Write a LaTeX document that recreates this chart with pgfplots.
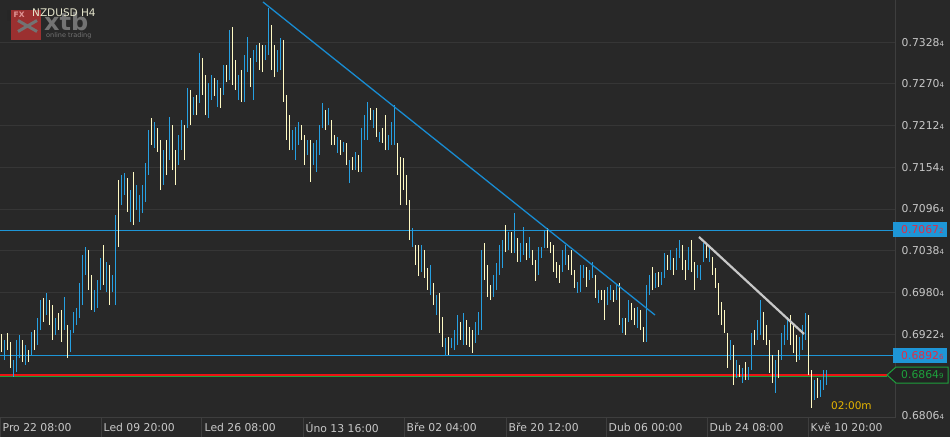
\documentclass[border=0pt]{standalone}
\usepackage{fontspec}
\setmainfont{DejaVu Sans}
\usepackage{pgfplots}
\usepackage{pgfplotstable}
\pgfplotsset{compat=1.18}
\definecolor{bg}{RGB}{40,40,40}
\definecolor{bgbox}{RGB}{34,34,34}
\definecolor{gridc}{RGB}{54,54,54}
\definecolor{axc}{RGB}{62,62,62}
\definecolor{labc}{RGB}{200,200,200}
\definecolor{cup}{RGB}{38,160,226}
\definecolor{cdn}{RGB}{255,250,195}
\definecolor{tline}{RGB}{24,140,210}
\definecolor{hline}{RGB}{30,150,215}
\definecolor{redl}{RGB}{235,20,20}
\definecolor{greenl}{RGB}{30,160,60}
\definecolor{redt}{RGB}{225,45,70}
\definecolor{titc}{RGB}{230,230,205}
\definecolor{logor}{RGB}{155,48,48}
\definecolor{logog}{RGB}{115,115,115}
\definecolor{orangec}{RGB}{230,180,0}
\definecolor{wline}{RGB}{200,200,200}
\newcommand{\pr}[2]{#1{\fontsize{7}{8}\selectfont #2}}

\pgfplotstableread{
i h l c
0 0.69226 0.68976 0
1 0.69143 0.68864 1
2 0.69240 0.69003 0
3 0.69115 0.68753 0
4 0.68864 0.68628 1
5 0.69143 0.68697 1
6 0.69212 0.68892 1
7 0.69143 0.68837 0
8 0.69073 0.68795 1
9 0.69003 0.68837 0
10 0.69254 0.68934 1
11 0.69282 0.69003 0
12 0.69449 0.69073 1
13 0.69699 0.69282 1
14 0.69727 0.69393 0
15 0.69796 0.69490 1
16 0.69699 0.69351 0
17 0.69629 0.69143 0
18 0.69449 0.69212 1
19 0.69518 0.69282 0
20 0.69560 0.69115 0
21 0.69741 0.69282 1
22 0.69351 0.68892 0
23 0.69282 0.68976 1
24 0.69532 0.69240 1
25 0.69588 0.69351 1
26 0.69935 0.69449 1
27 0.70325 0.69629 1
28 0.70436 0.70047 1
29 0.70394 0.69838 0
30 0.70047 0.69560 0
31 0.69838 0.69532 1
32 0.69977 0.69588 1
33 0.70283 0.69838 1
34 0.70464 0.69908 0
35 0.70228 0.69810 1
36 0.70186 0.69629 0
37 0.70047 0.69810 1
38 0.70881 0.69629 1
39 0.71368 0.70436 0
40 0.71438 0.71020 1
41 0.71466 0.71160 1
42 0.71396 0.70923 0
43 0.71229 0.70784 1
44 0.71479 0.70742 0
45 0.71299 0.70951 1
46 0.71160 0.70784 1
47 0.71299 0.70909 1
48 0.71605 0.71062 1
49 0.72064 0.71438 1
50 0.72231 0.71855 0
51 0.72175 0.71813 1
52 0.72092 0.71758 0
53 0.71925 0.71229 0
54 0.71785 0.71299 1
55 0.71925 0.71438 0
56 0.72245 0.71646 1
57 0.72133 0.71507 0
58 0.71785 0.71299 0
59 0.71994 0.71577 1
60 0.72203 0.71785 1
61 0.72133 0.71646 0
62 0.72648 0.72092 1
63 0.72620 0.72133 0
64 0.72523 0.72272 1
65 0.72551 0.72272 0
66 0.73135 0.72439 1
67 0.73065 0.72551 0
68 0.72829 0.72272 0
69 0.72717 0.72231 1
70 0.72829 0.72481 1
71 0.72787 0.72537 0
72 0.72759 0.72384 1
73 0.72648 0.72370 0
74 0.72968 0.72551 1
75 0.72968 0.72731 0
76 0.73455 0.72759 1
77 0.73496 0.72690 0
78 0.73037 0.72620 0
79 0.72829 0.72481 1
80 0.72898 0.72453 0
81 0.73107 0.72453 1
82 0.73357 0.72870 1
83 0.73065 0.72662 0
84 0.73176 0.72481 1
85 0.73246 0.73010 1
86 0.73274 0.72898 0
87 0.73246 0.72870 0
88 0.73246 0.73037 1
89 0.73761 0.73107 1
90 0.73524 0.72898 0
91 0.73246 0.72801 0
92 0.73176 0.72870 1
93 0.73343 0.72898 1
94 0.73316 0.72453 0
95 0.72551 0.71925 0
96 0.72272 0.71785 0
97 0.72064 0.71785 1
98 0.72105 0.71646 1
99 0.72175 0.71855 1
100 0.72133 0.71925 0
101 0.71994 0.71577 0
102 0.71925 0.71716 1
103 0.71925 0.71340 0
104 0.71883 0.71577 1
105 0.71925 0.71479 1
106 0.72133 0.71716 1
107 0.72439 0.72092 1
108 0.72342 0.72064 0
109 0.72370 0.72133 1
110 0.72203 0.71855 0
111 0.71994 0.71855 0
112 0.71966 0.71744 1
113 0.71925 0.71716 0
114 0.71897 0.71758 1
115 0.71883 0.71577 0
116 0.71646 0.71326 1
117 0.71688 0.71507 0
118 0.71758 0.71507 1
119 0.71716 0.71479 0
120 0.72092 0.71479 1
121 0.72272 0.71925 1
122 0.72453 0.71925 1
123 0.72370 0.72203 0
124 0.72342 0.72092 1
125 0.72370 0.71966 0
126 0.72036 0.71897 1
127 0.72092 0.71883 0
128 0.72272 0.71785 0
129 0.71994 0.71785 1
130 0.72175 0.71855 1
131 0.72411 0.71855 1
132 0.71883 0.71438 0
133 0.71688 0.71020 0
134 0.71674 0.71229 0
135 0.71438 0.71020 0
136 0.71090 0.70534 0
137 0.70701 0.70436 1
138 0.70464 0.70186 0
139 0.70464 0.70033 0
140 0.70464 0.70088 1
141 0.70394 0.70005 0
142 0.70144 0.69838 0
143 0.70186 0.69769 1
144 0.69935 0.69629 0
145 0.69769 0.69490 1
146 0.69796 0.69240 0
147 0.69463 0.69045 0
148 0.69170 0.68934 1
149 0.69184 0.68934 0
150 0.69170 0.69031 1
151 0.69282 0.69003 1
152 0.69490 0.69073 1
153 0.69393 0.69143 0
154 0.69518 0.69073 1
155 0.69421 0.69073 0
156 0.69323 0.69045 0
157 0.69282 0.68962 0
158 0.69393 0.69101 1
159 0.69532 0.69212 1
160 0.70394 0.69282 1
161 0.70492 0.69977 0
162 0.70186 0.69741 0
163 0.69908 0.69699 0
164 0.70047 0.69741 1
165 0.70214 0.69838 1
166 0.70464 0.70047 1
167 0.70534 0.70144 1
168 0.70742 0.70367 0
169 0.70645 0.70394 1
170 0.70645 0.70353 0
171 0.70909 0.70353 1
172 0.70561 0.70228 0
173 0.70492 0.70228 1
174 0.70714 0.70325 1
175 0.70492 0.70255 0
176 0.70575 0.70283 1
177 0.70394 0.70186 0
178 0.70255 0.69963 0
179 0.70436 0.70047 1
180 0.70436 0.70283 1
181 0.70673 0.70422 1
182 0.70701 0.70422 0
183 0.70506 0.70353 0
184 0.70464 0.70088 0
185 0.70228 0.70005 0
186 0.70186 0.69935 0
187 0.70394 0.70088 1
188 0.70464 0.70186 1
189 0.70325 0.70116 0
190 0.70394 0.70047 0
191 0.70116 0.69866 0
192 0.69949 0.69796 1
193 0.70186 0.69810 1
194 0.70186 0.70005 1
195 0.70158 0.69880 0
196 0.70116 0.69977 1
197 0.70228 0.70005 1
198 0.70047 0.69727 0
199 0.69838 0.69657 1
200 0.69838 0.69699 0
201 0.69838 0.69421 0
202 0.69880 0.69629 1
203 0.69908 0.69699 1
204 0.69838 0.69671 0
205 0.69908 0.69699 1
206 0.69935 0.69351 0
207 0.69449 0.69240 1
208 0.69449 0.69212 0
209 0.69699 0.69393 1
210 0.69657 0.69421 0
211 0.69588 0.69351 0
212 0.69602 0.69310 1
213 0.69560 0.69282 0
214 0.69323 0.69115 0
215 0.69908 0.69115 1
216 0.70047 0.69769 1
217 0.70158 0.69838 0
218 0.70075 0.69866 1
219 0.70088 0.69880 0
220 0.70088 0.69908 1
221 0.70353 0.70005 1
222 0.70325 0.70116 0
223 0.70394 0.70116 1
224 0.70283 0.70047 0
225 0.70422 0.70116 1
226 0.70534 0.70283 1
227 0.70464 0.70116 0
228 0.70255 0.69977 0
229 0.70436 0.70116 1
230 0.70534 0.70088 0
231 0.70228 0.69838 0
232 0.70186 0.70005 1
233 0.70186 0.69977 1
234 0.70492 0.70228 1
235 0.70464 0.70283 0
236 0.70422 0.70228 1
237 0.70297 0.70047 0
238 0.70144 0.69866 0
239 0.69935 0.69490 0
240 0.69671 0.69351 0
241 0.69560 0.69240 0
242 0.69240 0.68753 0
243 0.69143 0.68864 1
244 0.69073 0.68517 0
245 0.68864 0.68614 1
246 0.68795 0.68628 0
247 0.68753 0.68544 1
248 0.68837 0.68586 0
249 0.68767 0.68586 1
250 0.69240 0.68725 1
251 0.69282 0.69073 0
252 0.69421 0.69143 1
253 0.69699 0.69212 1
254 0.69532 0.69143 0
255 0.69351 0.69073 0
256 0.69143 0.68684 0
257 0.68934 0.68544 0
258 0.68864 0.68405 1
259 0.69003 0.68614 0
260 0.69240 0.68864 1
261 0.69351 0.69073 1
262 0.69463 0.69143 1
263 0.69490 0.69073 0
264 0.69351 0.68962 0
265 0.69212 0.68837 0
266 0.69184 0.68864 1
267 0.69351 0.69003 1
268 0.69518 0.69143 1
269 0.69490 0.68656 0
270 0.68725 0.68197 0
271 0.68586 0.68308 1
272 0.68614 0.68336 0
273 0.68586 0.68350 1
274 0.68725 0.68447 1
275 0.68725 0.68517 1
}\candles

\begin{document}
\begin{tikzpicture}[x=1pt,y=1pt]
\fill[bg] (0,-19.5) rectangle (950,417.5);
\useasboundingbox (0,-19.5) rectangle (950,417.5);
\begin{axis}[
  at={(0,0)}, anchor=south west, scale only axis,
  width=895pt, height=417.5pt,
  xmin=-0.5, xmax=297.83, ymin=0.68064, ymax=0.73872,
  axis x line=bottom, axis y line=right,
  axis line style={draw=axc, line width=1pt, -},
  ymajorgrids, grid style={draw=gridc, line width=1pt},
  ytick={0.68064,0.68644,0.69224,0.69804,0.70384,0.70964,0.71544,0.72124,0.72704,0.73284},
  yticklabels={\raisebox{4.5pt}{\pr{0.6806}{4}},{},\pr{0.6922}{4},\pr{0.6980}{4},\pr{0.7038}{4},\pr{0.7096}{4},\pr{0.7154}{4},\pr{0.7212}{4},\pr{0.7270}{4},\pr{0.7328}{4}},
  xtick={-0.5,33.17,66.83,100.5,134.17,168.17,201.5,235.17,268.83},
  xticklabels={Pro 22 08:00,Led 09 20:00,Led 26 08:00,Úno 13 16:00,Bře 02 04:00,Bře 20 12:00,Dub 06 00:00,Dub 24 08:00,Kvě 10 20:00},
  tick align=outside, major tick length=19.5pt,
  xtick style={draw=axc, line width=1pt},
  ytick style={draw=none},
  ticklabel style={font=\fontsize{10.8}{12}\selectfont, text=labc},
  xticklabel style={anchor=west, inner sep=0pt, xshift=2.5pt, yshift=9.5pt},
  yticklabel style={anchor=west, inner sep=0pt, xshift=-13pt},
]
% horizontal levels
\addplot[hline, line width=1pt] coordinates {(-0.5,0.70672) (297.83,0.70672)};
\addplot[hline, line width=1pt] coordinates {(-0.5,0.68926) (297.83,0.68926)};
\addplot[greenl, line width=0.7pt] coordinates {(-0.5,0.68634) (295.17,0.68634)};
\addplot[redl, line width=1.6pt] coordinates {(-0.5,0.68652) (295.17,0.68652)};
% down candles
\addplot[draw=none, mark=none, restrict expr to domain={\thisrow{c}}{-0.5:0.5},
  error bars/.cd, y dir=plus, y explicit, error mark=none,
  error bar style={line width=1.6pt, draw=cdn}]
  table[x=i, y=l, y error expr=\thisrow{h}-\thisrow{l}] {\candles};
% up candles
\addplot[draw=none, mark=none, restrict expr to domain={\thisrow{c}}{0.5:1.5},
  error bars/.cd, y dir=plus, y explicit, error mark=none,
  error bar style={line width=1.6pt, draw=cup}]
  table[x=i, y=l, y error expr=\thisrow{h}-\thisrow{l}] {\candles};
% trend lines
\addplot[tline, line width=1.3pt] coordinates {(87.17,0.73844) (217.83,0.69490)};
\addplot[wline, line width=2.2pt] coordinates {(232.5,0.70575) (267.5,0.69226)};
\end{axis}
% logo and title
\fill[black!85] (7,407.5) rectangle (12,396.5);
\fill[logor] (11,407.5) rectangle (41,377.5);
\node[anchor=north west, inner sep=0, font=\fontsize{7.5}{8}\selectfont\bfseries, text={rgb,255:red,225;green,150;blue,150}] at (13.5,405.5) {FX};
\draw[logog, line width=3pt] (18,397) -- (37,386);
\draw[logog, line width=3pt] (18,386) -- (37,397);
\node[anchor=base west, inner sep=0, font=\fontsize{24}{25}\selectfont\bfseries, text=logog] at (44,386.5) {xtb};
\node[anchor=base west, inner sep=0, font=\fontsize{6.5}{7}\selectfont, text=logog] at (46,379.5) {online trading};
\node[anchor=west, inner sep=0, font=\fontsize{10.5}{12}\selectfont, text=titc] at (32,404.5) {NZDUSD H4};
% price labels on the right
\fill[hline] (893,195.5) rectangle (947,180.5);
\node[anchor=west, inner sep=0, font=\fontsize{10.8}{12}\selectfont, text=redt] at (901,188) {\pr{0.7067}{2}};
\fill[hline] (893,69.5) rectangle (947,54.5);
\node[anchor=west, inner sep=0, font=\fontsize{10.8}{12}\selectfont, text=redt] at (901,62) {\pr{0.6892}{6}};
\filldraw[fill=bgbox, draw=greenl, line width=1pt] (887,42.5) -- (896,50.5) -- (948,50.5) -- (948,34.5) -- (896,34.5) -- cycle;
\node[anchor=west, inner sep=0, font=\fontsize{10.8}{12}\selectfont, text=greenl] at (901,42.5) {\pr{0.6864}{9}};
\node[anchor=west, inner sep=0, font=\fontsize{10.5}{12}\selectfont, text=orangec] at (831,11.5) {02:00m};
\end{tikzpicture}
\end{document}
